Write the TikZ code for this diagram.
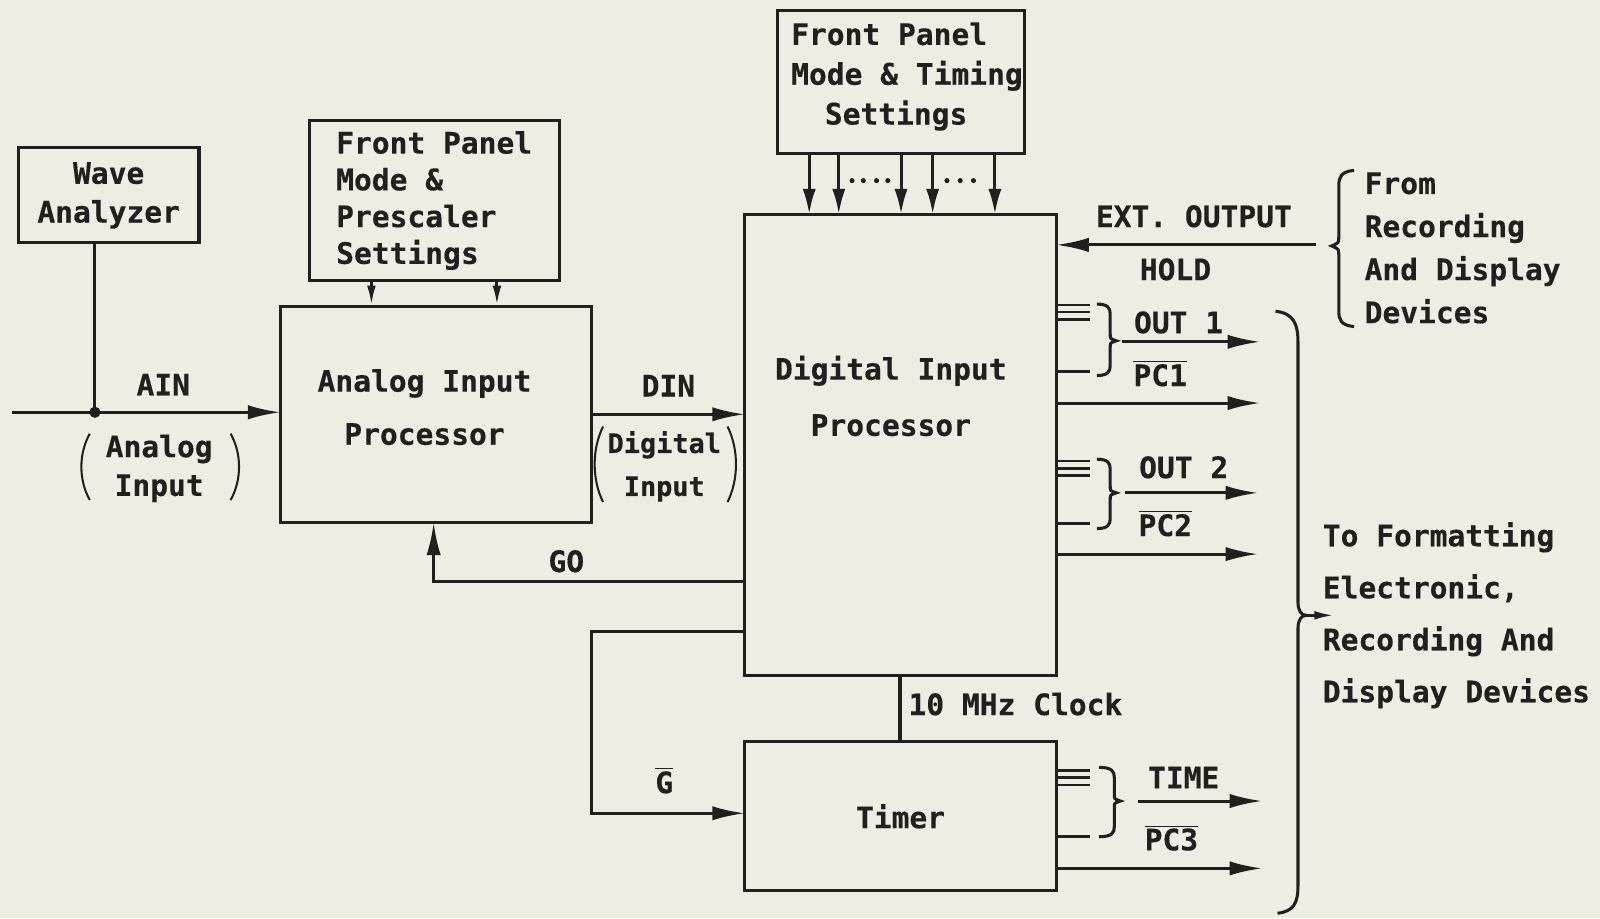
\documentclass[tikz,border=0pt]{standalone}
\usepackage{fontspec}
\setmainfont{DejaVu Sans Mono}[FakeBold=0.35]
\usetikzlibrary{arrows.meta}
\definecolor{paper}{RGB}{237,237,227}
\definecolor{inkc}{RGB}{34,32,30}
\newcommand\fz[1]{\fontsize{16.5}{#1}\selectfont\bfseries}
\newcommand\fzs[2]{\fontsize{#1}{#2}\selectfont\bfseries}
\newcommand\obar[1]{$\overline{\mbox{#1}}$}
% right-pointing brace: x0, xvertical, xtip, ytop, ymid, ybot
\newcommand\rbr[6]{%
  \draw[ln] (#1,#4) .. controls ({#2-2},#4) and (#2,{#4+4}) .. (#2,{#4+10})
    -- (#2,{#5-6}) .. controls (#2,{#5-2}) .. (#3,#5)
    .. controls (#2,{#5+2}) .. (#2,{#5+6})
    -- (#2,{#6-10}) .. controls (#2,{#6-4}) and ({#2-2},#6) .. (#1,#6);}
% parentheses pair: xleft, xright, ytop, ybot
\newcommand\prn[4]{%
  \draw[ln, line width=0.4mm] ({#1+8},#3) .. controls ({#1-3},{#3+0.3*(#4-#3)}) and ({#1-3},{#3+0.7*(#4-#3)}) .. ({#1+8},#4);
  \draw[ln, line width=0.4mm] ({#2-8},#3) .. controls ({#2+3},{#3+0.3*(#4-#3)}) and ({#2+3},{#3+0.7*(#4-#3)}) .. ({#2-8},#4);}
\begin{document}
\begin{tikzpicture}[x=0.2mm,y=-0.2mm,
  ln/.style={draw=inkc, line width=0.6mm},
  box/.style={draw=inkc, line width=0.6mm, rectangle, inner sep=0pt, outer sep=0pt, anchor=north west, text=inkc},
  lbl/.style={text=inkc, inner sep=0pt, font=\fz{20}},
  bigtip/.style={-{Latex[length=6.4mm,width=2.8mm]}},
  medtip/.style={-{Latex[length=5mm,width=2.6mm]}},
  smalltip/.style={-{Latex[length=4mm,width=1.7mm]}}]
\fill[paper] (0,0) rectangle (1568,900);
\useasboundingbox (0,0) rectangle (1568,900);

% ---------- boxes ----------
\node[box, minimum width=35.4mm, minimum height=18.6mm, align=center, font=\fz{21.6}] (wa) at (18,145) {Wave\\Analyzer};
\node[box, minimum width=49mm, minimum height=31.4mm, align=left, font=\fz{20.5}] (fp1) at (303,118) {Front Panel\\Mode \&\\Prescaler\\Settings};
\node[box, minimum width=61mm, minimum height=42.4mm] (aip) at (275,300) {};
\node[lbl, align=center, font=\fz{29.6}] (aiptxt) at (416,399) {Analog Input\\Processor};
\node[box, minimum width=48.4mm, minimum height=28mm] (fp2) at (762,10) {};
\node[lbl, anchor=west, align=left, font=\fz{22.2}] (fp2txt) at (775,75) {Front Panel\\Mode \& Timing\\\hspace*{6.6mm}Settings};
\node[box, minimum width=61mm, minimum height=90.4mm] (dip) at (730,210) {};
\node[lbl, align=center, font=\fz{31.3}] (diptxt) at (873,388) {Digital Input\\Processor};
\node[box, minimum width=61mm, minimum height=29.2mm, font=\fz{20}] (tim) at (730,727) {Timer};

% ---------- analog input ----------
\coordinate (ain) at (12,404);
\coordinate (jn) at (93,404);
\draw[ln] (wa.south -| jn) -- (jn);
\draw[ln, bigtip] (ain) -- (aip.west |- jn);
\fill[inkc] (jn) circle (1.1mm);
\node[lbl] (ainl) at (160,377) {AIN};
\node[lbl, align=center, font=\fz{21.6}] (ainp) at (156,459) {Analog\\Input};
\prn{80}{234}{425}{490}

% front panel 1 -> AIP
\coordinate (f1a) at (364,0);
\coordinate (f1b) at (487,0);
\draw[ln, smalltip] (fp1.south -| f1a) -- (aip.north -| f1a);
\draw[ln, smalltip] (fp1.south -| f1b) -- (aip.north -| f1b);

% DIN
\draw[ln, bigtip] (aip.east) -- (dip.west |- aip.east);
\node[lbl] (dinl) at (655,378) {DIN};
\node[lbl, align=center, font=\fzs{15}{24}] (dinp) at (651,457) {Digital\\Input};
\prn{583}{721}{418}{492}

% front panel 2 -> DIP
\foreach \xx [count=\i] in {793,822,883,914,975} {
  \coordinate (t\i) at (\xx,0);
  \draw[ln, medtip] (fp2.south -| t\i) -- (dip.north -| t\i);
}
\foreach \xx in {835,846,859,870,928,941,954} \fill[inkc] (\xx,177) circle (0.5mm);

% GO
\coordinate (go) at (425,570);
\draw[ln, bigtip] (dip.west |- go) -- (go) -- (aip.south -| go);
\node[lbl] (gol) at (555,550) {GO};

% G bar
\coordinate (g1) at (580,619);
\coordinate (g2) at (580,797);
\draw[ln, bigtip] (dip.west |- g1) -- (g1) -- (g2) -- (tim.west |- g2);
\node[lbl] (gl) at (651,765) {\obar{G}};

% clock
\coordinate (ck) at (882,0);
\draw[ln] (dip.south -| ck) -- (tim.north -| ck);
\node[lbl, anchor=west] (ckl) at (890,690) {10 MHz Clock};

% EXT OUTPUT HOLD
\coordinate (ext) at (1290,240);
\draw[ln, bigtip] (ext) -- (dip.east |- ext);
\node[lbl] (extl) at (1170,212) {EXT. OUTPUT};
\node[lbl] (holdl) at (1152,264) {HOLD};
\draw[ln] (1327,167) .. controls (1314,168) and (1312,174) .. (1312,182) -- (1312,232)
  .. controls (1312,238) .. (1305,241) .. controls (1312,244) .. (1312,250)
  -- (1312,305) .. controls (1312,313) and (1314,319) .. (1327,320);
\node[lbl, anchor=west, align=left, font=\fz{24}] (froml) at (1337,243) {From\\Recording\\And Display\\Devices};

% ---------- OUT 1 ----------
\foreach \yy in {299,306,313} {\coordinate (q) at (1068,\yy); \draw[ln, line width=0.45mm] (dip.east |- q) -- (q);}
\coordinate (s1) at (1068,364);
\draw[ln] (dip.east |- s1) -- (s1);
\rbr{1075}{1088}{1094}{298}{334}{368}
\coordinate (o1a) at (1100,335);
\coordinate (o1b) at (1235,335);
\draw[ln, bigtip] (o1a) -- (o1b);
\node[lbl] (out1) at (1155,316) {OUT 1};
\node[lbl] (pc1) at (1137,366) {\obar{PC1}};
\coordinate (p1) at (1235,395);
\draw[ln, bigtip] (dip.east |- p1) -- (p1);

% ---------- OUT 2 ----------
\foreach \yy in {452,459,466} {\coordinate (q) at (1068,\yy); \draw[ln, line width=0.45mm] (dip.east |- q) -- (q);}
\coordinate (s2) at (1068,513);
\draw[ln] (dip.east |- s2) -- (s2);
\rbr{1075}{1088}{1094}{450}{483}{518}
\coordinate (o2a) at (1102,483);
\coordinate (o2b) at (1233,483);
\draw[ln, bigtip] (o2a) -- (o2b);
\node[lbl] (out2) at (1160,458) {OUT 2};
\node[lbl] (pc2) at (1142,513) {\obar{PC2}};
\coordinate (p2) at (1233,543);
\draw[ln, bigtip] (dip.east |- p2) -- (p2);

% ---------- TIME ----------
\foreach \yy in {755,762,769} {\coordinate (q) at (1068,\yy); \draw[ln, line width=0.45mm] (tim.east |- q) -- (q);}
\coordinate (s3) at (1068,820);
\draw[ln] (tim.east |- s3) -- (s3);
\rbr{1077}{1092}{1098}{752}{785}{820}
\coordinate (o3a) at (1115,785);
\coordinate (o3b) at (1237,785);
\draw[ln, bigtip] (o3a) -- (o3b);
\node[lbl] (timel) at (1160,762) {TIME};
\node[lbl] (pc3) at (1148,821) {\obar{PC3}};
\coordinate (p3) at (1237,851);
\draw[ln, bigtip] (tim.east |- p3) -- (p3);

% ---------- big brace ----------
\coordinate (btip) at (1280,603);
\coordinate (bend) at (1308,603);
\draw[ln] (1250,305) .. controls (1268,307) and (1272,318) .. (1272,335) -- (1272,590)
  .. controls (1272,598) and (1275,603) .. (btip) .. controls (1275,603) and (1272,608) .. (1272,616)
  -- (1272,868) .. controls (1272,885) and (1268,893) .. (1252,895);
\draw[ln, smalltip] (btip) -- (bend);
\node[lbl, anchor=west, align=left, font=\fz{29}] (tol) at (1296,603) {To Formatting\\Electronic,\\Recording And\\Display Devices};
\end{tikzpicture}
\end{document}
